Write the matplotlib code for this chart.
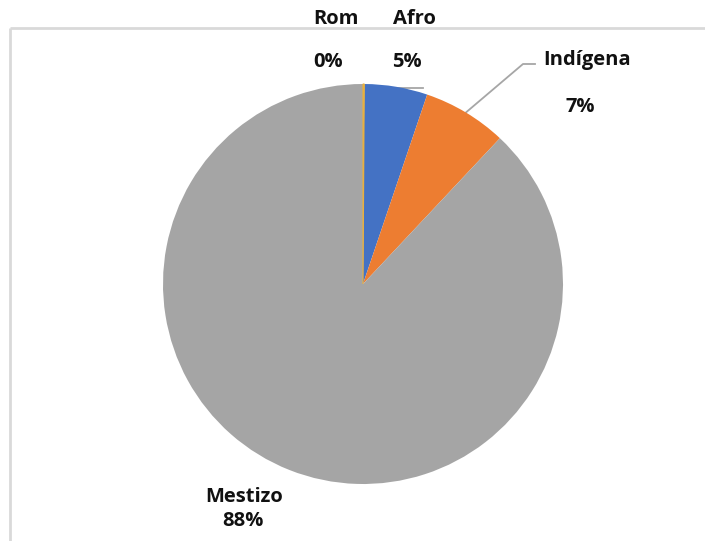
import numpy as np
import matplotlib
matplotlib.use("Agg")
import matplotlib.pyplot as plt

categories = ["Rom", "Afro", "Indígena", "Mestizo"]
values = [0.1, 5.1, 6.8, 88.0]
pct_labels = ["0%", "5%", "7%", "88%"]
colors = ["#FFC000", "#4472C4", "#ED7D31", "#A5A5A5"]

W, H = 705, 541
fig = plt.figure(figsize=(W / 100, H / 100), dpi=100)

# overlay in pixel coordinates (y down)
ov = fig.add_axes([0, 0, 1, 1])
ov.set_xlim(0, W)
ov.set_ylim(H, 0)
ov.axis("off")

# chart border
ov.plot([10, W], [28, 28], color="#D9D9D9", lw=2, solid_capstyle="butt")
ov.plot([10, 10], [28, H], color="#D9D9D9", lw=2, solid_capstyle="butt")

cx, cy, R = 363, 284, 200
ax = fig.add_axes([(cx - R) / W, (H - cy - R) / H, 2 * R / W, 2 * R / H])
wedges, _ = ax.pie(values, colors=colors, startangle=90, counterclock=False,
                   wedgeprops=dict(linewidth=0))
wedges[0].set_edgecolor("#E8B040")
wedges[0].set_linewidth(0.8)
wedges[0].set_zorder(5)
ax.set_xlim(-1, 1)
ax.set_ylim(-1, 1)
ax.set_aspect("auto")
ax.axis("off")

font = dict(family=["Open Sans", "DejaVu Sans"], fontweight="bold", fontsize=14.5,
            color="#111111", ha="center", va="center")

label_pos = {
    "Rom": ((336, 19), (328, 62)),
    "Afro": ((414, 19), (407, 62)),
    "Indígena": ((587, 60), (580, 107)),
    "Mestizo": ((244, 497), (243, 521)),
}
for cat, pct in zip(categories, pct_labels):
    (x1, y1), (x2, y2) = label_pos[cat]
    ov.text(x1, y1, cat, **font)
    ov.text(x2, y2, pct, **font)

# leader lines
w = wedges[2]
mid = np.deg2rad((w.theta1 + w.theta2) / 2)
sx = cx + R * np.cos(mid)
sy = cy - R * np.sin(mid)
ov.plot([sx, 523, 535], [sy, 64, 64], color="#A6A6A6", lw=1.3)
ov.plot([395, 423], [88, 88], color="#A6A6A6", lw=1.3)

fig.savefig("out.png", dpi=100, facecolor="white")
